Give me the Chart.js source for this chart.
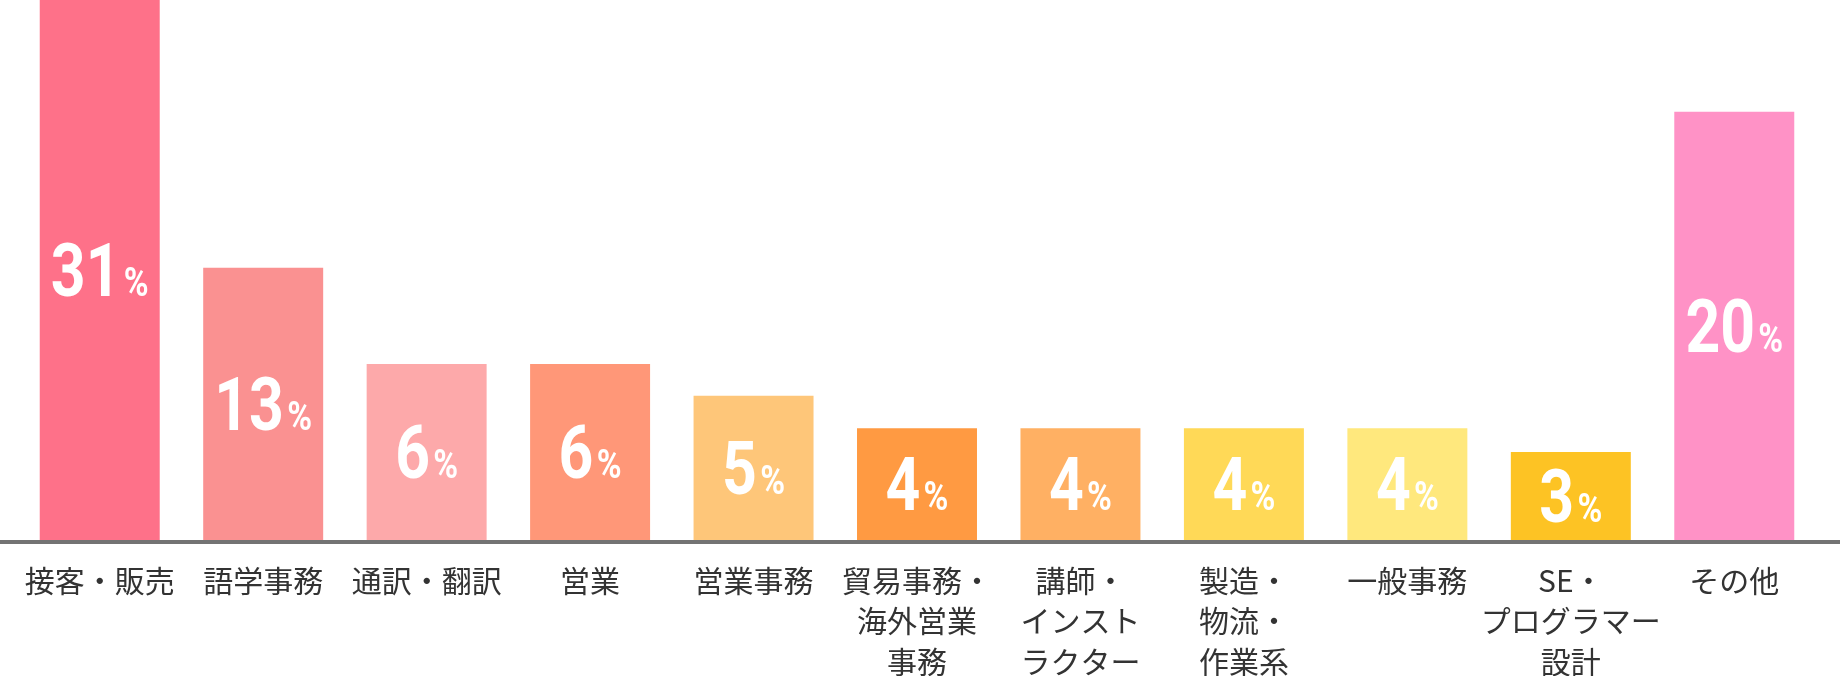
<!DOCTYPE html>
<html>
<head>
<meta charset="utf-8">
<script src="https://cdn.jsdelivr.net/npm/chart.js@4/dist/chart.umd.min.js"></script>
<style>
  html, body { margin: 0; padding: 0; background: #ffffff; }
  #wrap { width: 1840px; height: 676px; position: relative; }
</style>
</head>
<body>
<div id="wrap"><canvas id="c"></canvas></div>
<script>
// Categories (multi-line tick labels)
const categories = [
  ["接客・販売"],
  ["語学事務"],
  ["通訳・翻訳"],
  ["営業"],
  ["営業事務"],
  ["貿易事務・", "海外営業", "事務"],
  ["講師・", "インスト", "ラクター"],
  ["製造・", "物流・", "作業系"],
  ["一般事務"],
  ["SE・", "プログラマー", "設計"],
  ["その他"]
];
// Percent shown inside each bar
const shares = [31, 13, 6, 6, 5, 4, 4, 4, 4, 3, 20];
// Drawn bar heights (share of the plot height)
const barHeights = [100, 50.4, 32.6, 32.6, 26.7, 20.7, 20.7, 20.7, 20.7, 16.3, 79.3];
const barColors = ["#fe7189", "#fa9191", "#fda9aa", "#ff9778", "#fec679",
                   "#ff9a42", "#ffb063", "#ffd957", "#ffe87d", "#fdc324", "#ff92c6"];

const baselinePlugin = {
  id: 'baseline',
  afterDatasetsDraw(chart) {
    const ctx = chart.ctx;
    const y0 = chart.scales.y.getPixelForValue(0);
    ctx.save();
    ctx.fillStyle = '#737373';
    ctx.fillRect(0, y0, chart.width, 4);
    ctx.restore();
  }
};

const valuePlugin = {
  id: 'values',
  afterDatasetsDraw(chart) {
    const ctx = chart.ctx;
    const meta = chart.getDatasetMeta(0);
    const sx = 0.82;
    meta.data.forEach((bar, i) => {
      const num = String(shares[i]);
      const cy = (bar.y + bar.base) / 2;
      ctx.save();
      ctx.translate(bar.x, cy);
      ctx.scale(sx, 1);
      ctx.fillStyle = '#ffffff';
      ctx.textBaseline = 'alphabetic';
      ctx.textAlign = 'left';
      const bigFont = 'bold 74px Roboto, "Liberation Sans", sans-serif';
      const smallFont = 'bold 41px Roboto, "Liberation Sans", sans-serif';
      ctx.font = bigFont;
      const w1 = ctx.measureText(num).width;
      ctx.font = smallFont;
      const w2 = ctx.measureText('%').width;
      const gap = 4;
      const total = w1 + gap + w2;
      const start = -total / 2;
      const baseY = 26;
      ctx.font = bigFont;
      ctx.fillText(num, start, baseY);
      ctx.font = smallFont;
      ctx.fillText('%', start + w1 + gap, baseY);
      ctx.restore();
    });
  }
};

new Chart(document.getElementById('c'), {
  type: 'bar',
  data: {
    labels: categories,
    datasets: [{
      data: barHeights,
      backgroundColor: barColors,
      borderWidth: 0,
      barPercentage: 0.734,
      categoryPercentage: 1.0
    }]
  },
  options: {
    responsive: true,
    maintainAspectRatio: false,
    animation: false,
    layout: { padding: { left: 18, right: 24, top: 0, bottom: 0 } },
    plugins: {
      legend: { display: false },
      tooltip: { enabled: false }
    },
    scales: {
      x: {
        grid: { display: false, drawTicks: false },
        border: { display: false },
        ticks: {
          color: '#333333',
          padding: 20,
          autoSkip: false,
          maxRotation: 0,
          font: { family: '"Noto Sans CJK JP", "Noto Sans", sans-serif', size: 30, weight: '400', lineHeight: 1.35 }
        },
        afterFit(scale) { scale.height = 136; }
      },
      y: {
        display: false,
        min: 0,
        max: 100
      }
    }
  },
  plugins: [baselinePlugin, valuePlugin]
});
</script>
</body>
</html>
